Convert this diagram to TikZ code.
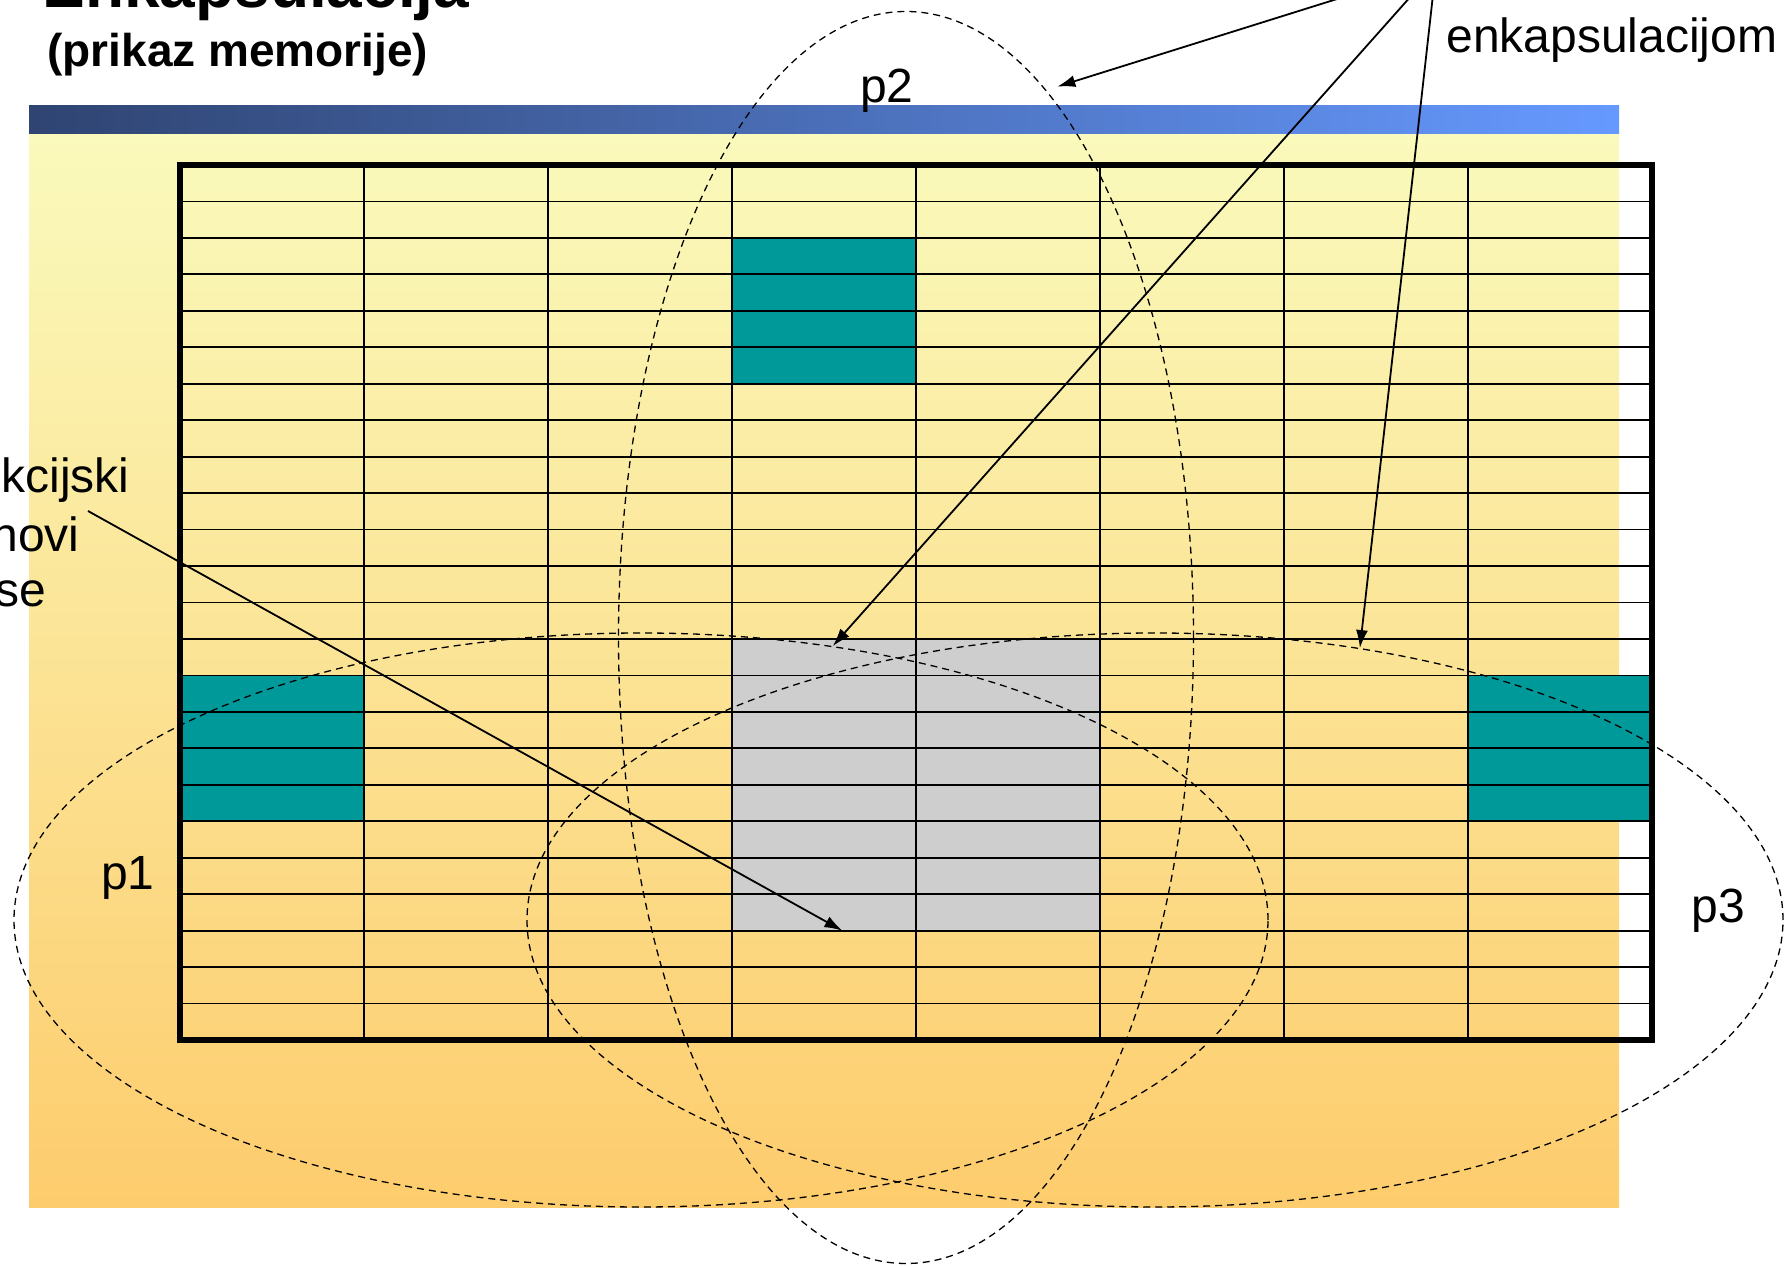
\documentclass[tikz,border=0pt]{standalone}
\usepackage{fontspec}
\setmainfont{Liberation Sans}
\usetikzlibrary{shapes.geometric,arrows.meta,calc}
\definecolor{barleft}{HTML}{2F4471}
\definecolor{barright}{HTML}{6699FF}
\definecolor{bgtop}{HTML}{FAFABC}
\definecolor{bgbottom}{HTML}{FDCC6D}
\definecolor{objfill}{HTML}{009999}
\definecolor{funfill}{HTML}{CECECE}

\begin{document}
\begin{tikzpicture}[x=0.5pt, y=-0.5pt,
    lbl/.style={inner sep=0, font=\fontsize{24}{28}\selectfont},
    block/.style={anchor=north west, inner sep=0, outer sep=0, draw=none},
    cellline/.style={line width=0.9pt},
    objset/.style={ellipse, draw, inner sep=0, line width=0.65pt, dash pattern=on 3.5pt off 2.5pt},
    conn/.style={-{Latex[length=9pt,width=6pt]}, line width=0.9pt}]
    \useasboundingbox (0,0) rectangle (1785,1267);

    % background and title bar
    \shade [top color=bgtop, bottom color=bgbottom] (29,134) rectangle (1619,1207);
    \shade [left color=barleft, right color=barright] (29,106) rectangle (1619,134);
    \node [lbl, anchor=base west, font=\fontsize{32}{36}\selectfont\bfseries] (title) at (42,8) {Enkapsulacija};
    \node [lbl, anchor=base west, font=\fontsize{23}{27}\selectfont\bfseries] (subtitle) at (47,67) {(prikaz memorije)};

    % memory cells
    \node [block, fill=objfill, minimum width=92pt, minimum height=72.92pt] (obj1) at (180,675.5) {};
    \node [block, fill=objfill, minimum width=92pt, minimum height=72.92pt] (obj2) at (732,237.9) {};
    \node [block, fill=objfill, minimum width=92pt, minimum height=72.92pt] (obj3) at (1468,675.5) {};
    \node [block, fill=funfill, minimum width=184pt, minimum height=145.83pt] (funk) at (732,639) {};
    \foreach \r in {1,...,23}
        \draw [cellline] (180,{165+36.458*\r}) -- (1652,{165+36.458*\r});
    \foreach \c in {1,...,7}
        \draw [cellline] ({180+184*\c},165) -- ({180+184*\c},1040);
    \draw [line width=3pt] (180,165) rectangle (1652,1040);

    % objects
    \node [objset, minimum width=627pt, minimum height=287pt] (p1) at (641,920) {};
    \node [objset, minimum width=287.5pt, minimum height=626pt] (p2) at (906,637.5) {};
    \node [objset, minimum width=628pt, minimum height=287pt] (p3) at (1155,920) {};
    \node [lbl, anchor=base] (p1lbl) at (128,889) {p1};
    \node [lbl, anchor=base] (p2lbl) at (887,103) {p2};
    \node [lbl, anchor=base] (p3lbl) at (1718,922) {p3};

    % labels
    \node [lbl, anchor=base west] (enk) at (1446,53) {enkapsulacijom};
    \node [lbl, anchor=base west] (fk1) at (1,493) {kcijski};
    \node [lbl, anchor=base west] (fk2) at (-9,552) {novi};
    \node [lbl, anchor=base west] (fk3) at (-5,607) {se};

    \coordinate (osrc) at (1436,-32);
    \coordinate (fsrc) at (88,511);
    \draw [conn] (osrc) -- ([xshift=7pt]p2.76);
    \draw [conn] (osrc) -- (p1.55);
    \draw [conn] (osrc) -- (p3.53);
    \draw [conn] (fsrc) -- ($(funk.south west)!0.3!(funk.south east)$);
\end{tikzpicture}
\end{document}
